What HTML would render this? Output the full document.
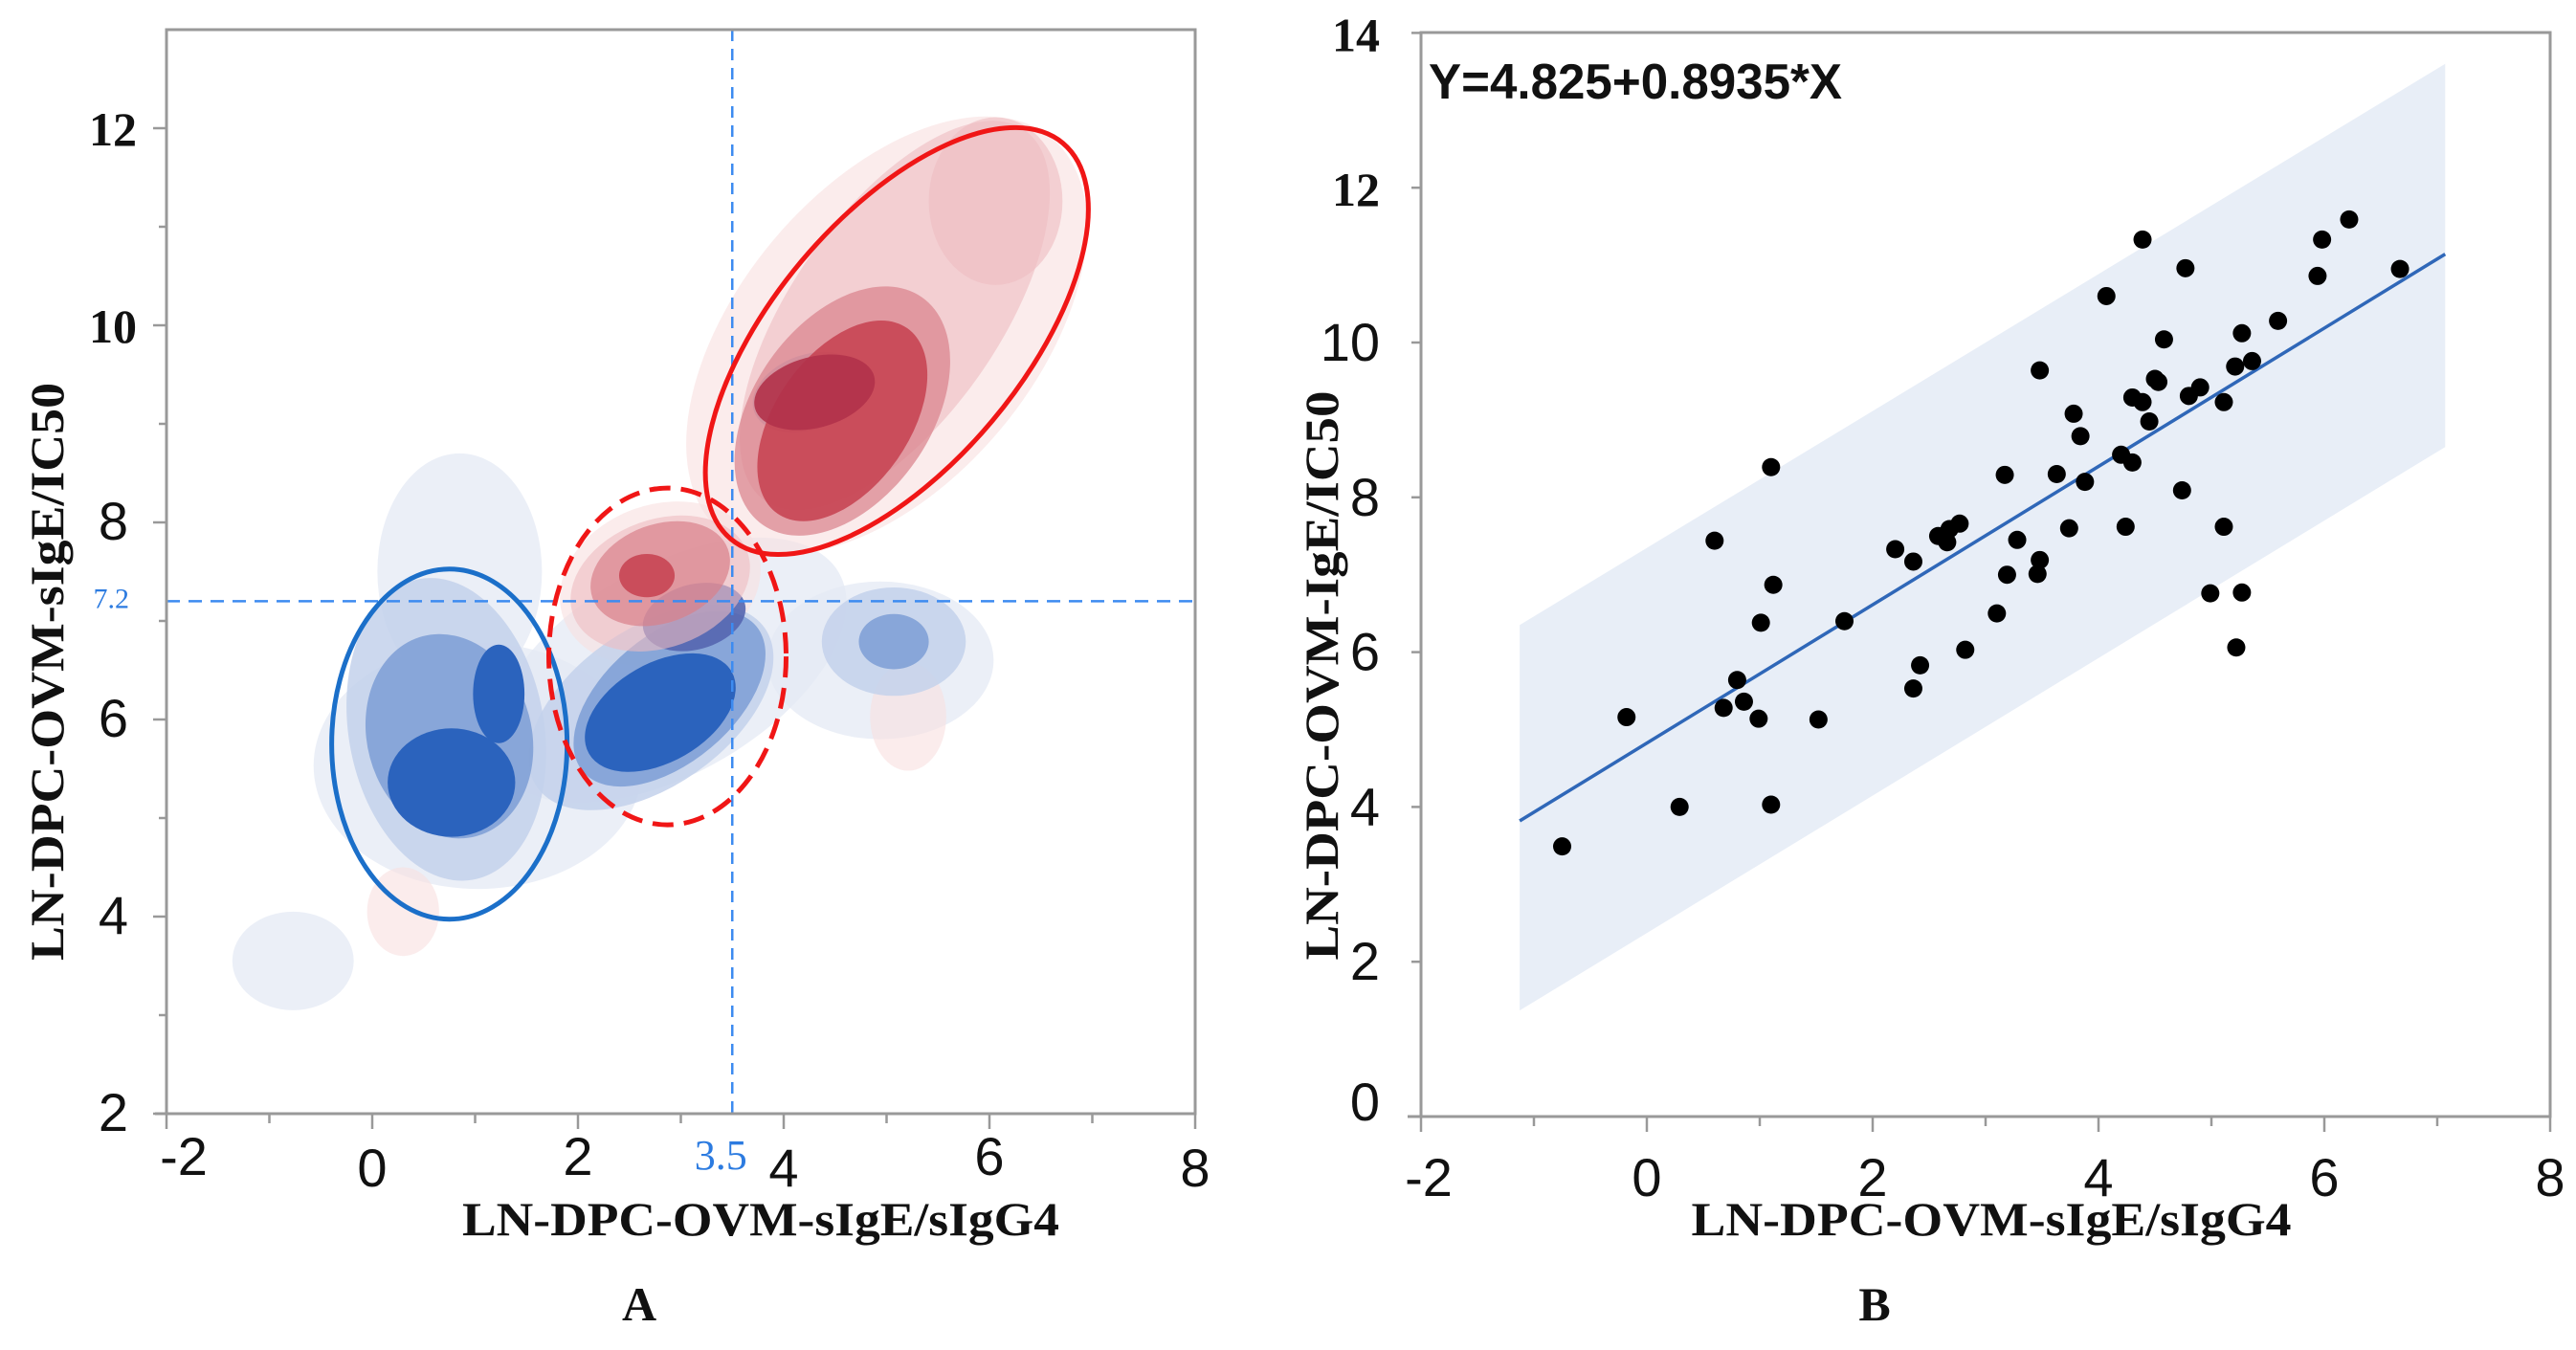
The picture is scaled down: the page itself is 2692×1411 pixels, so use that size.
<!DOCTYPE html>
<html><head><meta charset="utf-8">
<style>
html,body{margin:0;padding:0;background:#fff;}
svg{display:block;}
.tk{font-family:"Liberation Sans",sans-serif;font-size:56px;fill:#111;}
.tks{font-family:"Liberation Serif",serif;font-weight:bold;font-size:50px;fill:#111;}
.ttl{font-family:"Liberation Serif",serif;font-weight:bold;font-size:50px;fill:#111;}
</style></head>
<body>
<svg id="fig" width="2692" height="1411" viewBox="0 0 2692 1411" xmlns="http://www.w3.org/2000/svg">
<g id="panelA"></g>
<g id="panelB"></g>
</svg>
<script>
// ---------- Panel B data ----------
const bX = [-0.75,-0.18,0.29,0.60,0.68,0.80,0.86,0.99,1.01,1.10,1.12,1.10,1.52,1.75,2.20,2.36,2.36,2.42,2.58,2.66,2.68,2.77,2.82,3.10,3.17,3.19,3.28,3.46,3.48,3.48,3.63,3.74,3.78,3.84,3.88,4.07,4.20,4.24,4.30,4.30,4.39,4.39,4.45,4.50,4.53,4.58,4.74,4.77,4.80,4.90,4.99,5.11,5.11,5.21,5.22,5.27,5.27,5.36,5.59,5.94,5.98,6.22,6.67];
const bY = [3.49,5.16,4.00,7.44,5.28,5.64,5.36,5.14,6.38,8.39,6.87,4.03,5.13,6.40,7.33,7.17,5.53,5.83,7.50,7.42,7.59,7.66,6.03,6.50,8.29,7.00,7.45,7.01,7.19,9.64,8.30,7.60,9.08,8.79,8.20,10.60,8.55,7.62,8.45,9.29,9.23,11.33,8.98,9.53,9.49,10.04,8.09,10.96,9.31,9.42,6.76,9.23,7.62,9.69,6.06,10.12,6.77,9.76,10.28,10.86,11.33,11.59,10.95];
const fitIntercept = 4.825;
const fitSlope = 0.8935;
const fitRange = [-1.126, 7.07];
const bandUpper = [6.35, 13.6];
const bandLower = [1.37, 8.65];
const bXTicks = [-2,0,2,4,6,8];
const bYTicks = [0,2,4,6,8,10,12,14];

// ---------- Panel A data ----------
const aXTicks = [-2,0,2,4,6,8];
const aYTicks = [2,4,6,8,10,12];
const aCutX = 3.5;
const aCutY = 7.2;
// density blobs: [cx, cy, rx, ry, rotationDeg]
const blueHaze = [[-0.77,3.55,0.59,0.5,0],[1.03,5.53,1.6,1.25,0],[2.89,6.5,1.9,1.05,-30],[0.85,7.5,0.8,1.2,0],[4.94,6.6,1.1,0.8,0]];
const blueLight = [[0.72,5.9,0.95,1.55,-10],[2.71,6.12,1.35,0.8,-35],[5.07,6.79,0.7,0.55,0]];
const blueMid = [[0.75,5.83,0.8,1.05,-15],[2.89,6.21,1.1,0.65,-40],[5.07,6.79,0.34,0.28,0],[4.24,9.32,0.56,0.38,-20]];
const blueDark = [[0.77,5.36,0.62,0.55,0],[1.23,6.26,0.25,0.5,0],[2.8,6.07,0.8,0.5,-30]];
const bluePurple = [[3.13,7.04,0.51,0.33,-15]];
const redHaze = [[5.0,9.9,2.5,1.5,-50],[5.21,6.03,0.37,0.55,0],[0.3,4.05,0.35,0.45,0],[2.8,7.38,1.0,0.8,-20]];
const redLight = [[5.08,10.1,2.2,1.05,-55],[6.06,11.26,0.65,0.85,0],[2.8,7.38,0.9,0.65,-20]];
const redMid = [[4.57,9.13,1.35,0.9,-55],[2.8,7.48,0.7,0.5,-20]];
const redDark = [[4.57,9.03,1.1,0.68,-55],[2.67,7.46,0.27,0.22,0]];
const redCore = [[4.3,9.32,0.6,0.36,-15]];
// annotation ellipses: [cx, cy, rxPx, ryPx, rot]
const groupBlue = [0.75,5.75,123,183,0];
const groupRedDash = [2.87,6.64,124,176,0];
const groupRed = [5.1,9.84,270,130,-50];

const NS = "http://www.w3.org/2000/svg";
function mk(parent, tag, attrs){const e=document.createElementNS(NS,tag);for(const k in attrs)e.setAttribute(k,attrs[k]);parent.appendChild(e);return e;}

// ---------- Panel A scales ----------
const aL=174,aR=1249,aT=31,aB=1164;
const xA = v => aL + (v+2)*107.5;
const yA = v => aB - (v-2)*103;
const A = document.getElementById('panelA');
const gBlobs = mk(A,'g',{});


function drawBlobs(list,color,op,name){
  list.forEach(b=>{
    const cx=xA(b[0]),cy=yA(b[1]);
    const e=mk(gBlobs,'ellipse',{cx:cx,cy:cy,rx:b[2]*107.5,ry:b[3]*103,fill:color,'fill-opacity':op,transform:`rotate(${b[4]} ${cx} ${cy})`});
    
    
  });
}
drawBlobs(blueHaze,'#e4e9f4',0.75,'blue-density-level-1');
drawBlobs(redHaze,'#f8dfe0',0.6,'red-density-level-1');
drawBlobs(blueLight,'#c3d1eb',0.85,'blue-density-level-2');
drawBlobs(blueMid,'#7c9dd5',0.85,'blue-density-level-3');
drawBlobs(blueDark,'#2b63bd',1,'blue-density-level-4');
drawBlobs(bluePurple,'#5566b0',0.9,'blue-density-overlap');
drawBlobs(redLight,'#efbdc1',0.6,'red-density-level-2');
drawBlobs(redMid,'#d9808a',0.7,'red-density-level-3');
drawBlobs(redDark,'#c6404f',0.85,'red-density-level-4');
drawBlobs(redCore,'#b1324a',0.9,'red-density-level-5');

// cut lines
let ln=mk(A,'line',{x1:xA(aCutX),x2:xA(aCutX),y1:aT,y2:aB,stroke:'#3d8bf0','stroke-width':2.5,'stroke-dasharray':'12 8'});


ln=mk(A,'line',{x1:aL,x2:aR,y1:yA(aCutY),y2:yA(aCutY),stroke:'#3d8bf0','stroke-width':2.5,'stroke-dasharray':'14 9'});



// group ellipses
function grp(g,color,dash,name){
  const cx=xA(g[0]),cy=yA(g[1]);
  const a={cx:cx,cy:cy,rx:g[2],ry:g[3],fill:'none',stroke:color,'stroke-width':5,transform:`rotate(${g[4]} ${cx} ${cy})`};
  if(dash)a['stroke-dasharray']=dash;
  const e=mk(A,'ellipse',a);
  
  
}
grp(groupBlue,'#1b6fc9',null,'group-ellipse-blue');
grp(groupRedDash,'#f01616','22 11','group-ellipse-red-dashed');
grp(groupRed,'#f01616',null,'group-ellipse-red');

// axes frame A
let fr=mk(A,'rect',{x:aL,y:aT,width:aR-aL,height:aB-aT,fill:'none',stroke:'#999','stroke-width':3});


mk(A,'line',{x1:aL-12,x2:aL,y1:aB,y2:aB,stroke:'#999','stroke-width':3});
for(let v=-2;v<=8;v++){
  const maj=(v%2===0);
  mk(A,'line',{x1:xA(v),x2:xA(v),y1:aB,y2:aB+(maj?16:10),stroke:'#999','stroke-width':2.5});
}
for(let v=2;v<=12;v++){
  const maj=(v%2===0);
  mk(A,'line',{x1:aL-(maj?14:8),x2:aL,y1:yA(v),y2:yA(v),stroke:'#999','stroke-width':2.5});
}
aXTicks.forEach((v,i)=>{
  const t=mk(A,'text',{x:xA(v)+(v===-2?18:0),y:(i%2===0?1228:1240),'text-anchor':'middle',class:'tk'});
  t.textContent=v;
  
  
});
aYTicks.forEach(v=>{
  const t=mk(A,'text',{x:(v>=10?143:134),y:yA(v)+18,'text-anchor':'end',class:(v>=10?'tks':'tk')});
  t.textContent=v;
  
  
});
let t=mk(A,'text',{x:135,y:yA(aCutY)+7,'text-anchor':'end','font-family':'Liberation Serif, serif','font-size':30,fill:'#2c7be0'});
t.textContent=aCutY;


t=mk(A,'text',{x:xA(aCutX)-12,y:1222,'text-anchor':'middle','font-family':'Liberation Serif, serif','font-size':44,fill:'#2c7be0'});
t.textContent=aCutX;


t=mk(A,'text',{x:795,y:1291,'text-anchor':'middle',class:'ttl',textLength:624,lengthAdjust:'spacingAndGlyphs'});
t.textContent='LN-DPC-OVM-sIgE/sIgG4';


t=mk(A,'text',{x:0,y:0,'text-anchor':'middle',class:'ttl',textLength:604,lengthAdjust:'spacingAndGlyphs',transform:'translate(66 702) rotate(-90)'});
t.textContent='LN-DPC-OVM-sIgE/IC50';


t=mk(A,'text',{x:668,y:1380,'text-anchor':'middle',class:'ttl','font-size':44});
t.textContent='A';



// ---------- Panel B ----------
const bL=1485,bR=2665,bT=34,bB=1167;
const xB = v => bL + (v+2)*118;
const yB = v => bB - v*80.9;
const B=document.getElementById('panelB');
const band=mk(B,'polygon',{points:`${xB(fitRange[0])},${yB(bandUpper[0])} ${xB(fitRange[1])},${yB(bandUpper[1])} ${xB(fitRange[1])},${yB(bandLower[1])} ${xB(fitRange[0])},${yB(bandLower[0])}`,fill:'#e8eef7'});


const fl=mk(B,'line',{x1:xB(fitRange[0]),y1:yB(fitIntercept+fitSlope*fitRange[0]),x2:xB(fitRange[1]),y2:yB(fitIntercept+fitSlope*fitRange[1]),stroke:'#2f67b8','stroke-width':3.5});


bX.forEach((x,i)=>{
  const c=mk(B,'circle',{cx:xB(x),cy:yB(bY[i]),r:9.5,fill:'#000'});
  
  
});
fr=mk(B,'rect',{x:bL,y:bT,width:bR-bL,height:bB-bT,fill:'none',stroke:'#999','stroke-width':3});


mk(B,'line',{x1:bL-14,x2:bL,y1:bB,y2:bB,stroke:'#999','stroke-width':3});
for(let v=-2;v<=8;v++){
  const maj=(v%2===0);
  mk(B,'line',{x1:xB(v),x2:xB(v),y1:bB,y2:bB+(maj?16:10),stroke:'#999','stroke-width':2.5});
}
for(let v=0;v<=14;v+=2){
  mk(B,'line',{x1:bL-10,x2:bL,y1:yB(v),y2:yB(v),stroke:'#999','stroke-width':2.5});
}
bXTicks.forEach(v=>{
  const tx=mk(B,'text',{x:xB(v)+(v===-2?8:0),y:1250,'text-anchor':'middle',class:'tk','font-size':58});
  tx.textContent=v;
  
  
});
bYTicks.forEach(v=>{
  const tx=mk(B,'text',{x:1442,y:yB(v)+(v===0?4:19),'text-anchor':'end',class:(v>=12?'tks':'tk'),'font-size':(v>=12?50:58)});
  tx.textContent=v;
  
  
});
t=mk(B,'text',{x:1493,y:103,'font-family':'Liberation Sans, sans-serif','font-size':52,'font-weight':'bold',fill:'#111',textLength:432,lengthAdjust:'spacingAndGlyphs'});
t.textContent='Y=4.825+0.8935*X';


t=mk(B,'text',{x:2081,y:1291,'text-anchor':'middle',class:'ttl',textLength:627,lengthAdjust:'spacingAndGlyphs'});
t.textContent='LN-DPC-OVM-sIgE/sIgG4';


t=mk(B,'text',{x:0,y:0,'text-anchor':'middle',class:'ttl',textLength:595,lengthAdjust:'spacingAndGlyphs',transform:'translate(1398 706) rotate(-90)'});
t.textContent='LN-DPC-OVM-IgE/IC50';


t=mk(B,'text',{x:1959,y:1380,'text-anchor':'middle',class:'ttl','font-size':44});
t.textContent='B';


</script>
</body></html>
